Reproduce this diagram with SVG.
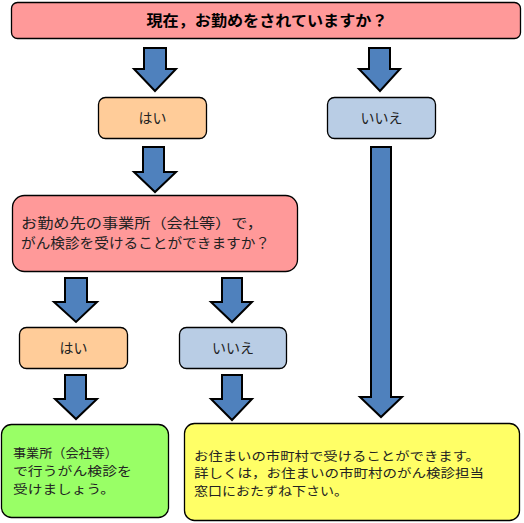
<svg xmlns="http://www.w3.org/2000/svg" width="524" height="523" viewBox="0 0 524 523">
<style>
.box{stroke:#000;stroke-width:1.3}
.t{font-family:"Noto Sans CJK JP","Noto Sans CJK SC",sans-serif;font-size:14px;fill:#222}
.ts{font-family:"Noto Sans CJK JP","Noto Sans CJK SC",sans-serif;font-size:12.5px;fill:#222}
.tb{font-family:"Noto Sans CJK JP","Noto Sans CJK SC",sans-serif;font-size:15px;font-weight:bold;fill:#000}
.arr{fill:#4F81BD;stroke:#000;stroke-width:2;stroke-linejoin:miter}
</style>
<rect width="524" height="523" fill="#fff"/>
<g id="connectors">
<path class="arr" d="M144,48 H166 V69 H176 L155,91 L134,69 H144 Z"/>
<path class="arr" d="M369,48 H390 V69 H400 L380,91 L359,69 H369 Z"/>
<path class="arr" d="M143,147 H164 V172 H176 L155,192 L134,172 H143 Z"/>
<path class="arr" d="M371,147 H391 V397 H402 L381,417 L360,397 H371 Z"/>
<path class="arr" d="M65,278 H87 V302 H97 L76,322 L54,302 H65 Z"/>
<path class="arr" d="M222,278 H242 V302 H252 L232,322 L211,302 H222 Z"/>
<path class="arr" d="M65,375 H86 V399 H97 L76,419 L55,399 H65 Z"/>
<path class="arr" d="M222,375 H242 V399 H252 L232,420 L211,399 H222 Z"/>
</g>
<g id="q1">
<rect class="box" x="11.5" y="2.5" width="509" height="36" rx="6" fill="#FF9999"/>
<text class="tb" x="267" y="25.5" text-anchor="middle" textLength="241" lengthAdjust="spacingAndGlyphs">現在，お勤めをされていますか？</text>
</g>
<g id="yes1">
<rect class="box" x="98.5" y="97.5" width="108" height="41" rx="7" fill="#FFCC99"/>
<text class="t" x="152.5" y="123" text-anchor="middle">はい</text>
</g>
<g id="no1">
<rect class="box" x="327.5" y="97.5" width="108" height="41" rx="7" fill="#B9CDE5"/>
<text class="t" x="381.5" y="123" text-anchor="middle">いいえ</text>
</g>
<g id="q2">
<rect class="box" x="12.5" y="195.5" width="285" height="76" rx="12" fill="#FF9999"/>
<text class="t" x="21" y="228" textLength="242" lengthAdjust="spacingAndGlyphs">お勤め先の事業所（会社等）で，</text>
<text class="t" x="21" y="248" textLength="249" lengthAdjust="spacingAndGlyphs">がん検診を受けることができますか？</text>
</g>
<g id="yes2">
<rect class="box" x="19.5" y="327.5" width="108" height="41" rx="7" fill="#FFCC99"/>
<text class="t" x="73.5" y="353" text-anchor="middle">はい</text>
</g>
<g id="no2">
<rect class="box" x="179.5" y="327.5" width="107" height="41" rx="7" fill="#B9CDE5"/>
<text class="t" x="233" y="353" text-anchor="middle">いいえ</text>
</g>
<g id="r1">
<rect class="box" x="1.5" y="424.5" width="167" height="93" rx="10" fill="#99FF66"/>
<text class="ts" x="13" y="457.5" textLength="105" lengthAdjust="spacingAndGlyphs">事業所（会社等）</text>
<text class="ts" x="13" y="475.5" textLength="119" lengthAdjust="spacingAndGlyphs">で行うがん検診を</text>
<text class="ts" x="13" y="493.5" textLength="102" lengthAdjust="spacingAndGlyphs">受けましょう。</text>
</g>
<g id="r2">
<rect class="box" x="184.5" y="423.5" width="335" height="97" rx="10" fill="#FFFF66"/>
<text class="ts" x="194" y="460.5" textLength="286" lengthAdjust="spacingAndGlyphs">お住まいの市町村で受けることができます。</text>
<text class="ts" x="194" y="478" textLength="290" lengthAdjust="spacingAndGlyphs">詳しくは，お住まいの市町村のがん検診担当</text>
<text class="ts" x="194" y="495.5" textLength="154" lengthAdjust="spacingAndGlyphs">窓口におたずね下さい。</text>
</g>
</svg>
